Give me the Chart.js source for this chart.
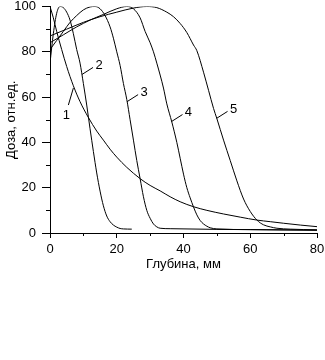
<!DOCTYPE html>
<html>
<head>
<meta charset="utf-8">
<script src="https://cdn.jsdelivr.net/npm/chart.js"></script>
<style>
	body { margin: 0; background: #fff; }
	#wrap { width: 325px; height: 360px; }
</style>
</head>
<body>
<div id="wrap"><canvas id="canvas"></canvas></div>
<script>
	// depth (mm) and relative dose for each curve
	var depth1 = [0, 1, 2, 3.5, 5, 7, 9, 11.5, 14, 16, 18, 20, 23, 27, 30, 33, 36, 39, 43, 47, 52, 57, 62, 66, 70, 75, 80];
	var dose1 = [100, 95, 89, 81, 73.5, 65, 58, 51, 45, 41, 37, 33.5, 29, 24, 21, 18.6, 16, 13.8, 11.6, 10, 8.4, 7, 5.7, 5, 4.3, 3.5, 2.8];

	var depth2 = [0, 1, 2, 3, 4, 5, 6, 7, 8, 9, 10, 11, 12, 13, 14, 15, 16, 17, 18, 19, 20, 21, 22, 24.5];
	var dose2 = [75, 88, 97, 100, 99.5, 97.5, 94, 88, 81, 75, 66, 56.5, 46, 36, 26.5, 18.5, 12, 7.5, 5, 3.5, 2.6, 2, 1.8, 1.7];

	var depth3 = [0, 2, 4, 6, 8, 10, 12, 13.5, 15, 16.5, 18, 19, 20, 21, 22, 23, 24, 25, 26, 27, 28, 29, 30, 31, 32, 33, 36, 50, 80];
	var dose3 = [81, 85, 89, 93, 96, 98.5, 99.8, 100, 99, 96, 91, 86, 80, 74, 66, 59, 50, 41, 32, 24, 16, 10, 6.5, 4, 2.7, 2.1, 1.9, 1.6, 1.3];

	var depth4 = [0, 4, 8, 12, 16, 20, 23, 25, 27, 28.5, 30, 31, 32, 34, 35, 36.5, 38, 39, 40, 41, 42, 43, 44, 45, 46, 47, 48, 50, 60, 80];
	var dose4 = [84, 87.5, 91, 94, 96.5, 99, 100, 99, 95, 89, 84, 80, 75, 64, 57, 49, 40, 33, 26, 20, 15.5, 11.5, 8, 5.5, 4, 3, 2.3, 1.8, 1.5, 1.2];

	var depth5 = [0, 5, 10, 15, 20, 25, 29, 32, 35, 37, 39, 41, 43, 44, 46, 47.5, 49, 50, 52, 54, 56, 58, 60, 62, 64, 66, 68, 72, 80];
	var dose5 = [87, 90, 93, 95.5, 97.5, 99.3, 100, 99.5, 97.5, 95.5, 92.5, 88.5, 83, 80.5, 71, 63, 55, 50.5, 41, 32, 23, 15, 9.5, 5.7, 3.6, 2.7, 2.1, 1.7, 1.4];

	// curve numbers and the point on each curve where the leader touches
	var curveLabels = ['1', '2', '3', '4', '5'];
	var labelDepth = [7, 9.6, 23.1, 36.4, 49.9];
	var labelDose = [64, 70, 58, 49.2, 50.6];

	var yTicks = [0, 20, 40, 60, 80, 100];
	var xTicks = [0, 20, 40, 60, 80];

	function pts(xs, ys) {
		var out = [];
		for (var i = 0; i < xs.length; ++i) out.push({x: xs[i], y: ys[i]});
		return out;
	}

	var fontFam = '"Liberation Sans", Arial, sans-serif';

	var curveLabelPlugin = {
		id: 'curveLabels',
		afterDraw: function(chart) {
			var c = chart.ctx, xs = chart.scales.x, ys = chart.scales.y;
			c.save();
			c.strokeStyle = '#000';
			c.fillStyle = '#000';
			c.lineWidth = 1;
			// minor ticks
			[10, 30, 50, 70, 90].forEach(function(v) {
				var py = Math.round(ys.getPixelForValue(v)) + 0.5;
				c.beginPath(); c.moveTo(chart.chartArea.left - 4, py); c.lineTo(chart.chartArea.left, py); c.stroke();
			});
			[10, 30, 50, 70].forEach(function(v) {
				var px = Math.round(xs.getPixelForValue(v)) + 0.5;
				c.beginPath(); c.moveTo(px, chart.chartArea.bottom); c.lineTo(px, chart.chartArea.bottom + 3); c.stroke();
			});
			// curve numbers with leader lines
			c.font = '13px ' + fontFam;
			c.textAlign = 'center';
			c.textBaseline = 'middle';
			for (var i = 0; i < curveLabels.length; ++i) {
				var ax = xs.getPixelForValue(labelDepth[i]);
				var ay = ys.getPixelForValue(labelDose[i]);
				var lx, ly, tx, ty;
				if (i == 0) { lx = ax - 5; ly = ay + 17; tx = ax - 7; ty = ay + 27; }
				else { lx = ax + 11; ly = ay - 7; tx = ax + 17; ty = ay - 9; }
				c.beginPath(); c.moveTo(ax, ay); c.lineTo(lx, ly); c.stroke();
				c.fillText(curveLabels[i], tx, ty);
			}
			c.restore();
		}
	};

	var sets = [[depth1, dose1], [depth2, dose2], [depth3, dose3], [depth4, dose4], [depth5, dose5]];
	var datasets = sets.map(function(s, i) {
		return {
			label: curveLabels[i],
			data: pts(s[0], s[1]),
			borderColor: '#000',
			borderWidth: 1,
			pointRadius: 0,
			fill: false,
			cubicInterpolationMode: 'monotone'
		};
	});

	window.onload = function() {
		var ctx = document.getElementById("canvas").getContext("2d");
		window.myLine = new Chart(ctx, {
			type: 'line',
			data: { datasets: datasets },
			plugins: [curveLabelPlugin],
			options: {
				responsive: true,
				maintainAspectRatio: false,
				animation: false,
				layout: { padding: { top: 0, right: 0, bottom: 84, left: 0 } },
				plugins: { legend: { display: false }, tooltip: { enabled: false } },
				scales: {
					x: {
						type: 'linear',
						min: 0, max: 80,
						afterFit: function(scale) {
							scale.height = 43;
							scale.paddingLeft = 0;
							scale.paddingRight = 8;
						},
						afterBuildTicks: function(scale) { scale.ticks = xTicks.map(function(v) { return {value: v}; }); },
						grid: { drawOnChartArea: false, tickLength: 5, color: '#000' },
						border: { color: '#000' },
						ticks: { color: '#000', padding: 5, maxRotation: 0, font: { size: 13, family: fontFam, lineHeight: 1 } },
						title: { display: true, text: 'Глубина, мм', color: '#000', font: { size: 13, family: fontFam } }
					},
					y: {
						min: 0, max: 100,
						afterFit: function(scale) {
							scale.width = 50;
							scale.paddingTop = 6.5;
							scale.paddingBottom = 0;
						},
						afterBuildTicks: function(scale) { scale.ticks = yTicks.map(function(v) { return {value: v}; }); },
						grid: { drawOnChartArea: false, tickLength: 8, color: '#000' },
						border: { color: '#000' },
						ticks: { color: '#000', padding: 6, font: { size: 13, family: fontFam, lineHeight: 1 } },
						title: { display: true, text: 'Доза, отн.ед.', color: '#000', font: { size: 13, family: fontFam } }
					}
				}
			}
		});
	};
</script>
</body>
</html>
